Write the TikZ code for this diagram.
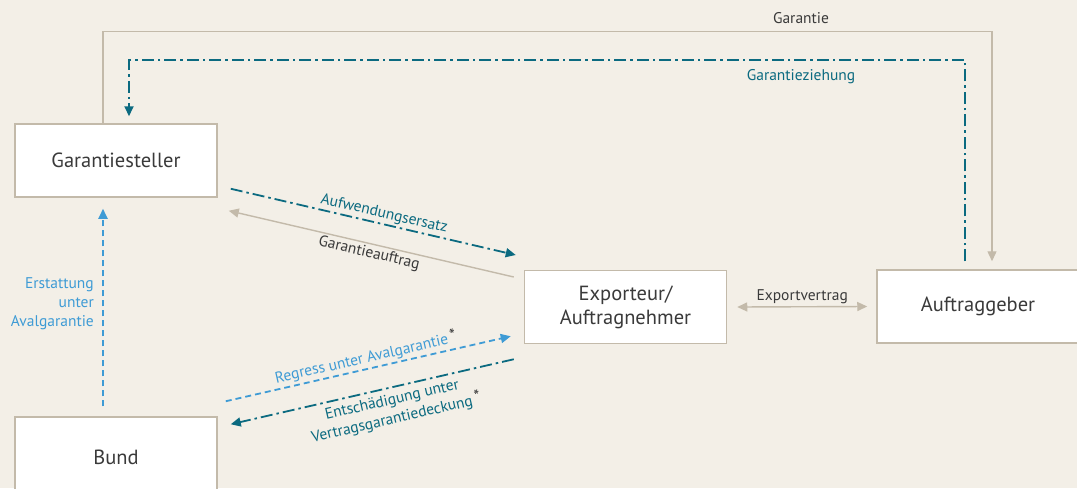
\documentclass[tikz,border=0pt]{standalone}
\usepackage{fontspec}
\setmainfont{PT Sans}
\usepackage{tikz}
\usetikzlibrary{arrows.meta,calc}

\definecolor{Paper}{HTML}{F3EFE7}
\definecolor{Tan}{HTML}{C3BAAA}
\definecolor{Teal}{HTML}{0B6A80}
\definecolor{SkyBlue}{HTML}{3E9BD5}
\definecolor{Ink}{HTML}{3A3A3A}

\newcommand{\footmark}{\raisebox{2pt}{\textcolor{Ink}{\fontsize{17}{17}\selectfont*}}}

\begin{document}
\begin{tikzpicture}[x=1pt,y=-1pt,
  party/.style={draw=Tan,line width=1.5pt,fill=white,minimum width=202pt,
    minimum height=73pt,align=center,text=Ink,font=\fontsize{20.5}{24}\selectfont},
  lbl/.style={font=\fontsize{15.5}{19}\selectfont,inner sep=2pt},
  tanline/.style={draw=Tan,line width=1.4pt},
  tealline/.style={draw=Teal,line width=1.8pt,dash pattern=on 12pt off 4pt on 2.5pt off 4pt},
  blueline/.style={draw=SkyBlue,line width=1.8pt,dash pattern=on 6pt off 4pt},
  tip/.style={-{Triangle[length=10pt,width=9pt]}}]
\fill[Paper] (0,0) rectangle (1077,488);
\useasboundingbox (0,0) rectangle (1077,488);

\node[party] (gs) at (116,160.5) {Garantiesteller};
\node[party,minimum height=80pt] (bund) at (116,457) {Bund};
\node[party] (exp) at (625.5,307) {Exporteur/\\Auftragnehmer};
\node[party] (ag) at (978,306.5) {Auftraggeber};

%top frame
\draw[tanline,tip,shorten >=8pt] ([xshift=-13pt]gs.north) -- ++(0,-92) -| ([xshift=14pt]ag.north);
\draw[tealline,tip,shorten <=8pt,shorten >=7pt] ([xshift=-13pt]ag.north) -- ++(0,-209) -| ([xshift=13pt]gs.north);
\node[lbl,text=Ink] (lgar) at (801,18) {Garantie};
\node[lbl,text=Teal] (lzieh) at (801,77) {Garantieziehung};

%Garantiesteller -- Exporteur
\draw[tealline,tip] ($(gs.south east)+(13,-9)$) -- ($(exp.west)+(-8,-52)$)
  node[lbl,pos=.53,sloped,above,text=Teal] {Aufwendungsersatz};
\draw[tanline,tip] ($(exp.west)+(-10,-30)$) -- ($(gs.south east)+(11,13)$)
  node[lbl,pos=.5,rotate=-13.1,anchor=north,text=Ink] {Garantieauftrag};

%Exporteur -- Auftraggeber
\draw[tanline,{Triangle[length=10pt,width=9pt]}-{Triangle[length=10pt,width=9pt]}]
  ($(exp.east)+(10,0)$) -- ($(ag.west)+(-9,0)$)
  node[lbl,midway,above,text=Ink] {Exportvertrag};

%Bund -- Exporteur
\draw[blueline,tip] ($(bund.north east)+(8,-15)$) -- ($(exp.south west)+(-13,-8)$)
  node[lbl,midway,sloped,above,text=SkyBlue] {Regress unter Avalgarantie\,\footmark};
\draw[tealline,tip] ($(exp.south west)+(-10,15)$) -- ($(bund.north east)+(13,8)$)
  node[lbl,pos=.44,rotate=13,anchor=north,inner sep=5pt,text=Teal,align=center] {Entschädigung unter\\Vertragsgarantiedeckung\,\footmark};

%Bund -- Garantiesteller
\draw[blueline,tip] ($(bund.north)+(-13,-10)$) -- ($(gs.south)+(-13,11)$);
\node[lbl,text=SkyBlue,align=right,anchor=east] (lerst) at (96,304) {Erstattung\\unter\\Avalgarantie};
\end{tikzpicture}
\end{document}
